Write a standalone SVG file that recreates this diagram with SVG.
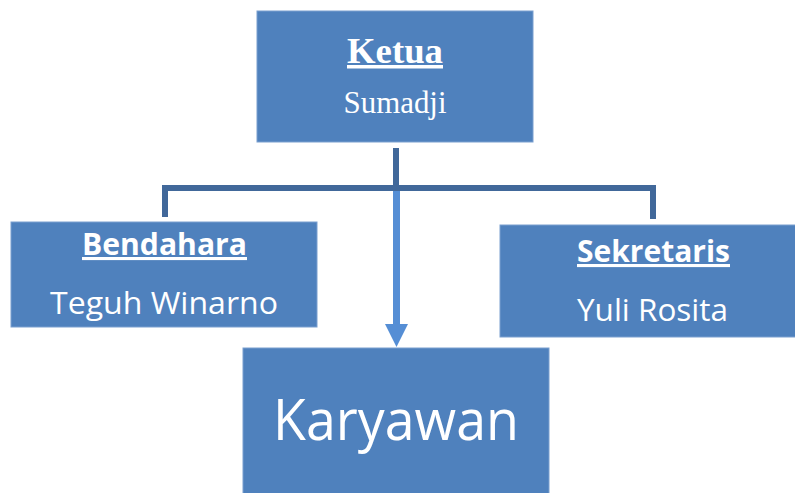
<svg xmlns="http://www.w3.org/2000/svg" width="795" height="493" viewBox="0 0 795 493">
<style>
.box{fill:#4F81BD;stroke:#7A9FCF;stroke-width:1}
.serif{font-family:"Liberation Serif","Times New Roman",serif;fill:#fff;text-anchor:middle}
.sans{font-family:"Open Sans","Noto Sans","Liberation Sans",sans-serif;fill:#fff;text-anchor:middle}
.conn{fill:none;stroke:#41689A;stroke-width:6}
</style>
<defs>
<marker id="ah" markerWidth="24" markerHeight="24" refX="0" refY="11.5" orient="auto" markerUnits="userSpaceOnUse" viewBox="0 0 24 24">
<path d="M0,0 L23,11.5 L0,23 Z" fill="#558ED5"/>
</marker>
</defs>
<g id="connectors">
<path class="conn" d="M396,148 V188"/>
<path class="conn" d="M165,217 V188 H653 V219"/>
<line x1="396.5" y1="191" x2="396.5" y2="324" stroke="#558ED5" stroke-width="7" marker-end="url(#ah)"/>
</g>
<g id="ketua">
<rect class="box" x="257" y="11" width="276" height="131"/>
<text class="serif" x="395" y="63" font-size="35" font-weight="bold" text-decoration="underline" textLength="96" lengthAdjust="spacingAndGlyphs">Ketua</text>
<text class="serif" x="395" y="113" font-size="31" textLength="103" lengthAdjust="spacingAndGlyphs">Sumadji</text>
</g>
<g id="bendahara">
<rect class="box" x="11" y="222" width="306" height="105"/>
<text class="sans" x="164.5" y="255" font-size="31" font-weight="bold" text-decoration="underline" textLength="165" lengthAdjust="spacingAndGlyphs">Bendahara</text>
<text class="sans" x="164" y="314" font-size="31" textLength="228" lengthAdjust="spacingAndGlyphs">Teguh Winarno</text>
</g>
<g id="sekretaris">
<rect class="box" x="500" y="225" width="296" height="112"/>
<text class="sans" x="653.5" y="262" font-size="31" font-weight="bold" text-decoration="underline" textLength="153" lengthAdjust="spacingAndGlyphs">Sekretaris</text>
<text class="sans" x="652.5" y="321" font-size="31" textLength="151" lengthAdjust="spacingAndGlyphs">Yuli Rosita</text>
</g>
<g id="karyawan">
<rect class="box" x="243" y="348" width="306" height="150"/>
<text class="sans" x="396" y="440" font-size="57" textLength="246" lengthAdjust="spacingAndGlyphs">Karyawan</text>
</g>
</svg>
